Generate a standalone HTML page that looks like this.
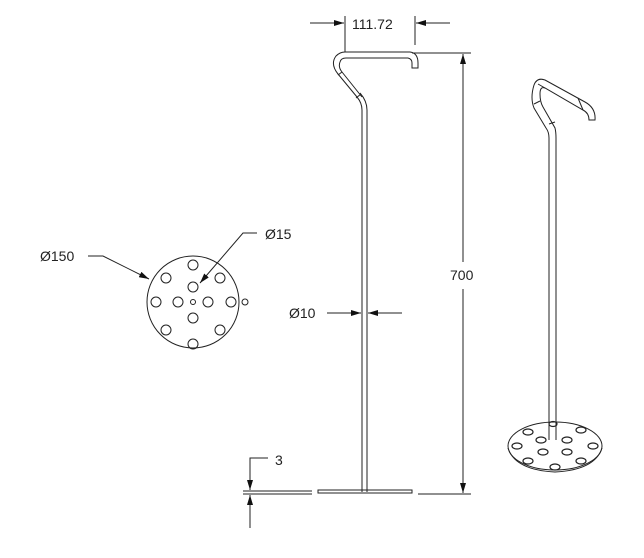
<!DOCTYPE html>
<html><head><style>body{margin:0;background:#fff}svg{display:block}text{font-family:"Liberation Sans","DejaVu Sans",sans-serif;font-size:14px;fill:#222}</style></head><body>
<svg width="644" height="558" viewBox="0 0 644 558" xmlns="http://www.w3.org/2000/svg">
<defs><marker id="a" viewBox="0 0 10 6" refX="10" refY="3" markerWidth="10" markerHeight="6" orient="auto" markerUnits="userSpaceOnUse"><path d="M0,0L10,3L0,6z" fill="#111"/></marker></defs>
<g fill="none" stroke="#222" stroke-width="1">
<!-- front rod -->
<path d="M362,492 V110 Q362,103 357,97 L338,74 Q330,64 336,56 Q340,52 345,52 H410 Q418,53 418,63 V68 H412 V63 Q412,59 408,58 H346 Q341,58 340,62 Q338,67 342,72 L362,97"/>
<path d="M367,492 V110 Q367,101 360,93"/>
<line x1="338" y1="75" x2="342" y2="72"/><line x1="356" y1="98" x2="361" y2="94"/>
<!-- base -->
<rect x="318" y="490" width="94" height="3"/>
<line x1="243" y1="491" x2="312" y2="491"/><line x1="243" y1="494" x2="312" y2="494"/>
<line x1="418" y1="494" x2="471" y2="494"/>
<!-- dims -->
<line x1="345" y1="16" x2="345" y2="52"/><line x1="415" y1="16" x2="415" y2="45"/>
<line x1="310" y1="23" x2="344" y2="23" marker-end="url(#a)"/><line x1="450" y1="23" x2="416" y2="23" marker-end="url(#a)"/>
<line x1="412" y1="53" x2="471" y2="53"/>
<line x1="463" y1="262" x2="463" y2="54" marker-end="url(#a)"/><line x1="463" y1="289" x2="463" y2="493" marker-end="url(#a)"/>
<line x1="327" y1="313" x2="361" y2="313" marker-end="url(#a)"/><line x1="402" y1="313" x2="368" y2="313" marker-end="url(#a)"/>
<path d="M268,458 H250 V490" marker-end="url(#a)"/><line x1="250" y1="528" x2="250" y2="495" marker-end="url(#a)"/>
<!-- top view -->
<circle cx="193" cy="302" r="46"/>
<circle cx="193" cy="265" r="5"/><circle cx="166" cy="278" r="5"/><circle cx="220" cy="278" r="5"/>
<circle cx="193" cy="287" r="5"/><circle cx="156" cy="302" r="5"/><circle cx="178" cy="302" r="5"/>
<circle cx="193" cy="302" r="2.5"/><circle cx="208" cy="302" r="5"/><circle cx="231" cy="302" r="5"/>
<circle cx="245" cy="302" r="3"/>
<circle cx="193" cy="318" r="5"/><circle cx="166" cy="330" r="5"/><circle cx="220" cy="330" r="5"/><circle cx="193" cy="344" r="5"/>
<path d="M88,256 H103 L149,279" marker-end="url(#a)"/>
<path d="M257,233 H243 L200,283" marker-end="url(#a)"/>
<!-- iso -->
<path d="M549,440 V138 Q549,132 546,128 L534,108 Q530,98 534,85 Q537,77 545,80 L585,102 Q596,108 595,120 H589 Q589,113 583,110 L545,88 Q540,86 540,94 Q540,102 543,107 L555,128 Q556,132 556,138 V440"/>
<line x1="534" y1="104" x2="540" y2="101"/><line x1="549" y1="124" x2="555" y2="122"/><line x1="578" y1="98" x2="583" y2="110"/><line x1="538" y1="84" x2="545" y2="88"/>
<ellipse cx="555" cy="446" rx="47" ry="24"/>
<path d="M508,448 Q515,470 555,472 Q595,470 602,448" />
<g stroke-width="1.2">
<ellipse cx="528" cy="432" rx="5" ry="3"/><ellipse cx="581" cy="430" rx="5" ry="3"/><ellipse cx="517" cy="446" rx="5" ry="3"/><ellipse cx="593" cy="446" rx="5" ry="3"/>
<ellipse cx="541" cy="440" rx="5" ry="3"/><ellipse cx="567" cy="440" rx="5" ry="3"/><ellipse cx="543" cy="452" rx="5" ry="3"/><ellipse cx="567" cy="452" rx="5" ry="3"/>
<ellipse cx="528" cy="461" rx="5" ry="3"/><ellipse cx="581" cy="461" rx="5" ry="3"/><ellipse cx="555" cy="467" rx="5" ry="3"/><ellipse cx="553" cy="424" rx="4" ry="2.5"/>
</g>
</g>
<text x="352" y="29">111.72</text>
<text x="450" y="280">700</text>
<text x="289" y="318">Ø10</text>
<text x="40" y="261">Ø150</text>
<text x="265" y="239">Ø15</text>
<text x="275" y="465">3</text>
</svg>
</body></html>
